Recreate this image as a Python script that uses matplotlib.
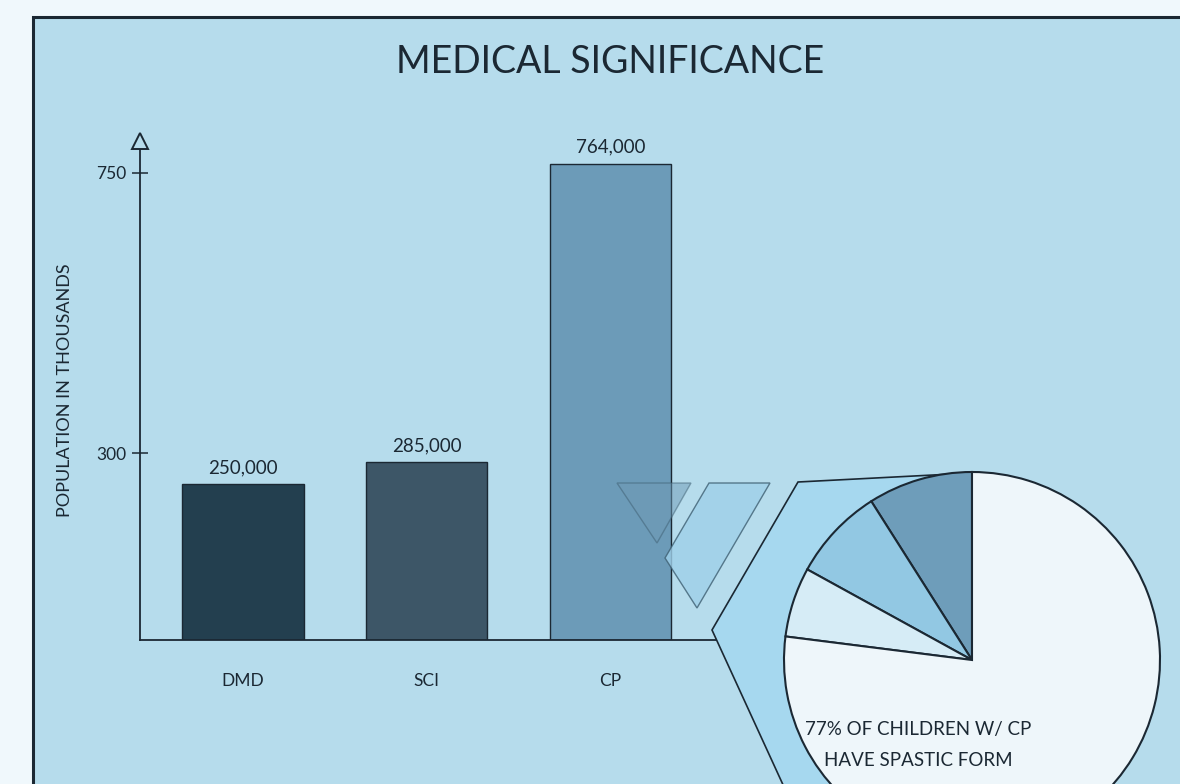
import matplotlib.pyplot as plt
from matplotlib.patches import Polygon, Rectangle

plt.rcParams['font.family'] = ['Lato', 'DejaVu Sans']

# data
categories = ['DMD', 'SCI', 'CP']
population = [250, 285, 764]          # thousands
value_labels = ['250,000', '285,000', '764,000']
bar_colors = ['#233F4F', '#3D5667', '#6C9BB8']
ytick_vals = [300, 750]

pie_shares = [9, 8, 6, 77]            # % of children with CP, spastic last
pie_colors = ['#6E9DBA', '#92C8E3', '#D6ECF6', '#EEF6FA']
pie_note = '77% OF CHILDREN W/ CP\nHAVE SPASTIC FORM'

W, H = 1180, 784
ink = '#1B2833'
panel = '#B6DCEC'

fig = plt.figure(figsize=(W / 100, H / 100), dpi=100)
fig.patch.set_facecolor('#F0F8FC')


def px_box(x0, y0, x1, y1):
    # pixel box (top-left origin) -> figure fraction rect
    return [x0 / W, 1 - y1 / H, (x1 - x0) / W, (y1 - y0) / H]


# background panel + decorations live on a full-figure pixel axes
bg = fig.add_axes([0, 0, 1, 1], zorder=0)
bg.set_xlim(0, W)
bg.set_ylim(H, 0)
bg.axis('off')
bg.add_patch(Rectangle((33, 17), W, H, facecolor=panel, edgecolor=ink, lw=2.2))

# bar chart
ax = fig.add_axes(px_box(140, 141, 717, 640), zorder=1)
ax.patch.set_alpha(0)
x = range(len(categories))
bars = ax.bar(x, population, width=0.66, color=bar_colors, edgecolor=ink, linewidth=1)
ax.bar_label(bars, labels=value_labels, padding=6, fontsize=13.5, color=ink)
ax.set_xlim(-0.56, 2.58)
ax.set_ylim(0, 801)
ax.set_xticks(list(x))
ax.set_xticklabels(categories, fontsize=12.5, color=ink)
ax.tick_params(axis='x', length=0, pad=24)
ax.set_yticks(ytick_vals)
ax.set_yticklabels([str(v) for v in ytick_vals], fontsize=12.5, color=ink)
ax.tick_params(axis='y', direction='inout', length=12, width=1.1, color=ink, pad=4)
for side in ['top', 'right']:
    ax.spines[side].set_visible(False)
for side in ['left', 'bottom']:
    ax.spines[side].set_color(ink)
    ax.spines[side].set_linewidth(1.3)
ax.plot([0], [1], marker='^', markersize=11, markerfacecolor=panel,
        markeredgecolor=ink, markeredgewidth=1.4, transform=ax.transAxes,
        clip_on=False, zorder=6)

fig.text(65 / W, 1 - 390 / H, 'POPULATION IN THOUSANDS', rotation=90,
         ha='center', va='center', fontsize=13, color=ink)
fig.text(610 / W, 1 - 62 / H, 'MEDICAL SIGNIFICANCE', ha='center', va='center',
         fontsize=27, color=ink)

# zoom-out shapes leading to the pie
deco = fig.add_axes([0, 0, 1, 1], zorder=2)
deco.set_xlim(0, W)
deco.set_ylim(H, 0)
deco.axis('off')
deco.add_patch(Polygon([(617, 483), (691, 483), (657, 543)], closed=True,
                       facecolor='#6E9AB5', alpha=0.5, edgecolor='#3E5F72', lw=1))
deco.add_patch(Polygon([(709, 483), (770, 483), (697, 608), (665, 558)], closed=True,
                       facecolor='#9FD0E9', alpha=0.8, edgecolor='#3E5F72', lw=1))
deco.add_patch(Polygon([(798, 482), (972, 473), (972, 660), (900, 800),
                        (790, 800), (712, 630)], closed=True,
                       facecolor='#A6D8EF', edgecolor=ink, lw=1.2))

# pie
pax = fig.add_axes(px_box(972 - 188, 660 - 188, 972 + 188, 660 + 188), zorder=3)
pax.pie(pie_shares, colors=pie_colors, startangle=90, counterclock=True, radius=1,
        wedgeprops=dict(edgecolor=ink, linewidth=1.5))
pax.set_xlim(-1, 1)
pax.set_ylim(-1, 1)
pax.set_aspect('equal')
pax.axis('off')
fig.text(918 / W, 1 - 745 / H, pie_note, ha='center', va='center',
         fontsize=13.5, color=ink, linespacing=1.95, zorder=4)

fig.savefig('out.png', dpi=100, facecolor=fig.get_facecolor())
